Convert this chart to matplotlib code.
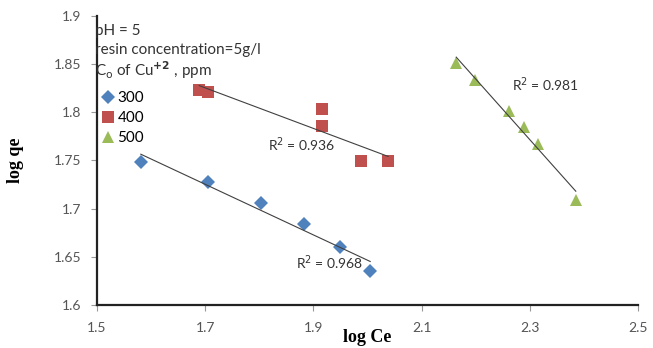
import matplotlib
matplotlib.use("Agg")
import matplotlib.pyplot as plt
import numpy as np

# log Ce / log qe values
x300 = [1.581, 1.705, 1.803, 1.883, 1.949, 2.005]
y300 = [1.748, 1.728, 1.706, 1.684, 1.660, 1.635]
x400 = [1.689, 1.705, 1.916, 1.916, 1.988, 2.038]
y400 = [1.823, 1.821, 1.803, 1.786, 1.749, 1.749]
x500 = [2.164, 2.199, 2.262, 2.289, 2.315, 2.385]
y500 = [1.851, 1.834, 1.801, 1.785, 1.767, 1.709]
labels = ["300", "400", "500"]
r2 = ["0.968", "0.936", "0.981"]

plt.rcParams['font.family'] = ['Lato', 'DejaVu Sans']

fig = plt.figure(figsize=(6.53, 3.48), dpi=100)
ax = fig.add_axes([97 / 653, 1 - 305 / 348, 541 / 653, 289 / 348])

series = [(x300, y300, 'D', '#4f81bd', 7.5), (x400, y400, 's', '#c0504d', 8.5),
          (x500, y500, '^', '#9bbb59', 9)]
for (xs, ys, m, c, s), lab in zip(series, labels):
    ax.plot(xs, ys, m, color=c, markersize=s, markeredgewidth=0, linestyle='none', label=lab)
    # linear trendline over the data range
    k, b = np.polyfit(xs, ys, 1)
    xx = np.array([min(xs), max(xs)])
    ax.plot(xx, k * xx + b, color='#404040', lw=0.8)

tcol = '#333333'
ax.text(1.867, 1.644, "R$^2$ = " + r2[0], fontsize=10, color=tcol, va='center')
ax.text(1.816, 1.766, "R$^2$ = " + r2[1], fontsize=10, color=tcol, va='center')
ax.text(2.268, 1.829, "R$^2$ = " + r2[2], fontsize=10, color=tcol, va='center')

# legend title lines
ax.text(1.497, 1.9 - 15 / 963, "pH = 5", fontsize=11, color=tcol, va='center')
ax.text(1.497, 1.9 - 34 / 963, "resin concentration=5g/l", fontsize=11, color=tcol, va='center')
ax.text(1.497, 1.9 - 54 / 963, r"C$_\mathrm{o}$ of Cu$^{\mathbf{+2}}$ , ppm", fontsize=11, color=tcol, va='center')

ax.legend(loc='upper left', bbox_to_anchor=(-0.013, 0.776), frameon=False, fontsize=11,
          handletextpad=0.1, handlelength=1.0, borderpad=0.2, labelspacing=0.38)

ax.set_xlim(1.5, 2.5)
ax.set_ylim(1.6, 1.9)
ax.set_xticks(np.arange(1.5, 2.51, 0.2))
ax.set_yticks(np.arange(1.6, 1.901, 0.05))
ax.set_xticklabels(["1.5", "1.7", "1.9", "2.1", "2.3", "2.5"])
ax.set_yticklabels(["1.6", "1.65", "1.7", "1.75", "1.8", "1.85", "1.9"])
ax.tick_params(labelsize=10, labelcolor='#555555', length=4, direction='out', color='#999999')
ax.tick_params(axis='y', pad=7)
ax.tick_params(axis='x', pad=8)
ax.spines['top'].set_visible(False)
ax.spines['right'].set_visible(False)
for sp in ('left', 'bottom'):
    ax.spines[sp].set_linewidth(1.6)
    ax.spines[sp].set_color('#222222')

ax.set_xlabel("log Ce", family='Liberation Serif', fontweight='bold', fontsize=13, labelpad=-3)
ax.set_ylabel("log qe", family='Liberation Serif', fontweight='bold', fontsize=13, labelpad=22)

fig.savefig("out.png", dpi=100)
